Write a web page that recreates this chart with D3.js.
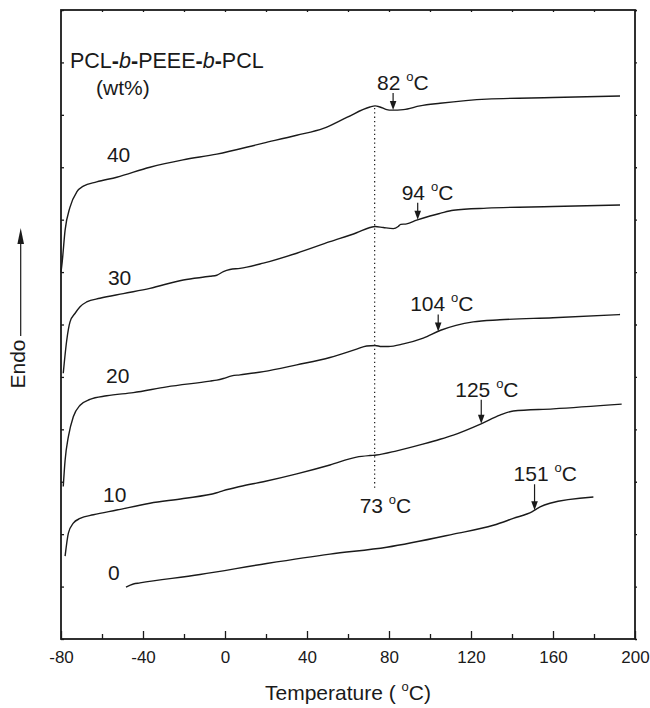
<!DOCTYPE html>
<html>
<head>
<meta charset="utf-8">
<script src="https://cdn.jsdelivr.net/npm/d3@7/dist/d3.min.js"></script>
<style>
  body { margin: 0; background: #fff; }
  svg text { font-family: "Liberation Sans", Arial, sans-serif; fill: #1a1a1a; }
</style>
</head>
<body>
<svg id="chart" width="650" height="708"></svg>
<script>
// DSC traces, PCL-b-PEEE-b-PCL content (wt%) -- temperature (C) vs endo (arb. units)
const temp40 = [-80, -79.4, -78.0, -75.6, -72.3, -69.1, -62.6, -52.8, -36.6, -20.5, -4.0, 18.7, 35.0, 48.0, 59.4, 70.7, 73.2, 75.6, 78.9, 81.3, 87.0, 95.1, 104.9, 127.7, 160.0, 192.7]
const endo40 = [7.00, 7.20, 7.80, 8.24, 8.53, 8.64, 8.72, 8.81, 9.00, 9.14, 9.25, 9.46, 9.61, 9.74, 9.95, 10.15, 10.17, 10.15, 10.10, 10.09, 10.10, 10.17, 10.22, 10.30, 10.33, 10.36]

const temp30 = [-78.9, -77.2, -75.6, -73.2, -70.7, -67.5, -61.0, -49.6, -36.6, -20.3, -7.3, -4.0, -0.8, 2.4, 7.3, 18.7, 35.0, 51.2, 64.2, 70.7, 73.2, 77.2, 82.1, 84.5, 85.7, 88.6, 93.5, 100.0, 104.9, 111.4, 127.7, 160.0, 192.7]
const endo30 = [5.07, 5.70, 6.05, 6.21, 6.34, 6.43, 6.50, 6.59, 6.69, 6.85, 6.92, 6.94, 7.01, 7.05, 7.07, 7.17, 7.36, 7.58, 7.75, 7.85, 7.87, 7.85, 7.83, 7.87, 7.91, 7.92, 7.99, 8.07, 8.12, 8.18, 8.22, 8.25, 8.28]

const temp20 = [-78.9, -78.0, -76.4, -74.0, -70.7, -65.9, -57.7, -44.7, -28.4, -7.3, -4.0, -0.8, 3.3, 7.3, 18.7, 35.0, 51.2, 64.2, 69.1, 73.2, 76.4, 79.7, 87.0, 96.7, 105.2, 121.1, 134.1, 160.0, 192.7]
const endo20 = [2.91, 3.41, 3.86, 4.24, 4.46, 4.57, 4.64, 4.70, 4.81, 4.92, 4.94, 4.97, 5.02, 5.04, 5.10, 5.23, 5.37, 5.53, 5.59, 5.60, 5.58, 5.58, 5.63, 5.74, 5.89, 6.05, 6.09, 6.13, 6.19]

const temp10 = [-78.0, -76.4, -74.0, -70.7, -64.2, -52.8, -36.6, -20.3, -4.0, -0.8, 7.3, 18.7, 35.0, 51.2, 64.2, 70.7, 73.9, 83.8, 96.7, 104.9, 111.4, 125.2, 134.1, 140.6, 160.1, 193.5]
const endo10 = [1.58, 2.02, 2.21, 2.30, 2.37, 2.46, 2.59, 2.68, 2.79, 2.83, 2.91, 3.00, 3.15, 3.32, 3.47, 3.50, 3.51, 3.59, 3.72, 3.81, 3.89, 4.11, 4.27, 4.35, 4.39, 4.48]

const temp0 = [-48.3, -44.7, -41.5, -12.2, 20.3, 51.2, 78.9, 111.4, 130.9, 140.6, 149.9, 153.7, 158.5, 179.7]
const endo0 = [0.99, 1.05, 1.07, 1.23, 1.44, 1.62, 1.75, 2.00, 2.17, 2.30, 2.43, 2.52, 2.59, 2.71]

const seriesNames = ["40", "30", "20", "10", "0"]
const tgTemps = [82, 94, 104, 125, 151]
const peakTemp = 73

const xTicks = [-80, -40, 0, 40, 80, 120, 160, 200]
const xMinorTicks = [-60, -20, 20, 60, 100, 140, 180]
const yTicks = [0, 1, 2, 3, 4, 5, 6, 7, 8, 9, 10, 11, 12]

// layout for labels (data coords / pixel offsets)
const nameAt = [[-57.6, 9.10], [-57.1, 6.75], [-58.0, 4.88], [-59.5, 2.61], [-57.1, 1.13]]
const tgDx = [-16, -16, -28, -26, -21]
const tgRise = [20, 20, 20, 27, 29]

const series = [
    { name: seriesNames[0], t: temp40, v: endo40 },
    { name: seriesNames[1], t: temp30, v: endo30 },
    { name: seriesNames[2], t: temp20, v: endo20 },
    { name: seriesNames[3], t: temp10, v: endo10 },
    { name: seriesNames[4], t: temp0, v: endo0 },
]

const svg = d3.select("#chart")
const x = d3.scaleLinear().domain([-80, 200]).range([61, 635])
const y = d3.scaleLinear().domain([0, 12]).range([639, 10])
const ink = "#1a1a1a"

const valueAt = (s, t) => {
    let i = d3.bisectLeft(s.t, t)
    if (i <= 0) return s.v[0]
    if (i >= s.t.length) return s.v[s.v.length - 1]
    const f = (t - s.t[i - 1]) / (s.t[i] - s.t[i - 1])
    return s.v[i - 1] + f * (s.v[i] - s.v[i - 1])
}

// axes (ticks only, frame drawn separately)
const styleAxis = g => {
    g.select(".domain").remove()
    g.selectAll(".tick line").attr("stroke", ink).attr("stroke-width", 1.3)
}
svg.append("g").attr("transform", "translate(0,639)")
    .call(d3.axisBottom(x).tickValues(xTicks).tickSize(-8).tickPadding(12).tickFormat(d => String(d)))
    .call(styleAxis)
    .selectAll("text")
    .attr("font-family", '"Liberation Sans", Arial, sans-serif')
    .attr("font-size", 17)
    .attr("fill", ink)
svg.append("g").attr("transform", "translate(0,639)")
    .call(d3.axisBottom(x).tickValues(xMinorTicks).tickSize(-5).tickFormat(""))
    .call(styleAxis)
svg.append("g").attr("transform", "translate(0,10)")
    .call(d3.axisTop(x).tickValues(xTicks.concat(xMinorTicks)).tickSize(-2).tickFormat(""))
    .call(styleAxis)
svg.append("g").attr("transform", "translate(61,0)")
    .call(d3.axisLeft(y).tickValues(yTicks).tickSize(-3).tickFormat(""))
    .call(styleAxis)
svg.append("g").attr("transform", "translate(635,0)")
    .call(d3.axisRight(y).tickValues(yTicks).tickSize(2).tickFormat(""))
    .call(styleAxis)

svg.append("rect")
    .attr("x", x(-80)).attr("y", y(12))
    .attr("width", x(200) - x(-80)).attr("height", y(0) - y(12))
    .attr("fill", "none").attr("stroke", ink).attr("stroke-width", 1.8)

// dotted line at the 73 C peak
const topSeries = series[0]
svg.append("line")
    .attr("x1", x(peakTemp)).attr("x2", x(peakTemp))
    .attr("y1", y(valueAt(topSeries, peakTemp)) + 2).attr("y2", y(2.84))
    .attr("stroke", ink).attr("stroke-width", 1.2).attr("stroke-dasharray", "1.3,3")

// curves
const line = d3.line()
    .x(d => x(d[0]))
    .y(d => y(d[1]))
    .curve(d3.curveMonotoneX)

svg.selectAll(".trace")
    .data(series)
    .join("path")
    .attr("class", "trace")
    .attr("d", s => line(d3.zip(s.t, s.v)))
    .attr("fill", "none")
    .attr("stroke", ink)
    .attr("stroke-width", 1.4)

// series labels
svg.selectAll(".sname")
    .data(series)
    .join("text")
    .attr("class", "sname")
    .attr("x", (s, i) => x(nameAt[i][0]))
    .attr("y", (s, i) => y(nameAt[i][1]))
    .attr("font-size", 21)
    .text(s => s.name)

// degree label helper: "NN °C" with raised small o
function degLabel(sel, num, pre) {
    sel.append("tspan").text((pre || "") + num + " ")
    sel.append("tspan").attr("font-size", 13).attr("dy", -9).text("o")
    sel.append("tspan").attr("dy", 9).text("C")
}

// Tg arrows
tgTemps.forEach((t, i) => {
    const s = series[i]
    const ax = x(t)
    const tipY = y(valueAt(s, t))
    const g = svg.append("g")
    g.append("line")
        .attr("x1", ax).attr("x2", ax)
        .attr("y1", tipY - tgRise[i] + 3).attr("y2", tipY - 6)
        .attr("stroke", ink).attr("stroke-width", 1.2)
    g.append("path")
        .attr("d", `M${ax},${tipY} L${ax - 3.3},${tipY - 9} L${ax + 3.3},${tipY - 9} Z`)
        .attr("fill", ink)
    const txt = g.append("text")
        .attr("x", ax + tgDx[i]).attr("y", tipY - tgRise[i])
        .attr("font-size", 21)
    degLabel(txt, t)
})

// 73 C label under the dotted line
const peakLabel = svg.append("text")
    .attr("x", x(peakTemp) - 15).attr("y", y(2.41))
    .attr("font-size", 21)
degLabel(peakLabel, peakTemp)

// composition title
const title = svg.append("text").attr("x", 70).attr("y", 68).attr("font-size", 21.5)
title.append("tspan").text("PCL")
title.append("tspan").attr("font-weight", "bold").text("-")
title.append("tspan").attr("font-style", "italic").text("b")
title.append("tspan").attr("font-weight", "bold").text("-")
title.append("tspan").text("PEEE")
title.append("tspan").attr("font-weight", "bold").text("-")
title.append("tspan").attr("font-style", "italic").text("b")
title.append("tspan").attr("font-weight", "bold").text("-")
title.append("tspan").text("PCL")
svg.append("text").attr("x", 96).attr("y", 95).attr("font-size", 21).text("(wt%)")

// x axis title
const xt = svg.append("text")
    .attr("x", (x(-80) + x(200)) / 2).attr("y", 700)
    .attr("text-anchor", "middle")
    .attr("font-size", 21)
xt.append("tspan").text("Temperature ( ")
xt.append("tspan").attr("font-size", 13).attr("dy", -9).text("o")
xt.append("tspan").attr("dy", 9).text("C)")

// y axis title with arrow
svg.append("text")
    .attr("transform", "translate(25,364) rotate(-90)")
    .attr("text-anchor", "middle")
    .attr("font-size", 21)
    .text("Endo")
svg.append("line")
    .attr("x1", 20.7).attr("x2", 20.7)
    .attr("y1", 336).attr("y2", 240)
    .attr("stroke", ink).attr("stroke-width", 1.2)
svg.append("path")
    .attr("d", "M20.7,228 L17.4,244 L24,244 Z")
    .attr("fill", ink)
</script>
</body>
</html>
